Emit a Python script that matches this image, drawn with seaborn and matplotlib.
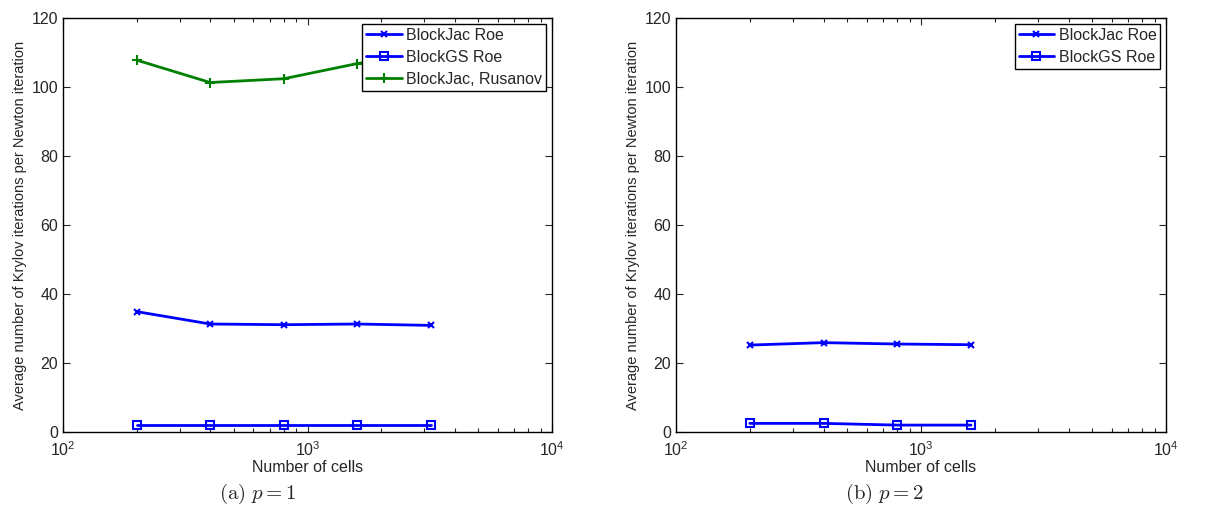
import matplotlib
matplotlib.use("Agg")
import matplotlib.pyplot as plt
import seaborn as sns
import pandas as pd
from matplotlib.ticker import LogLocator, NullFormatter

sns.set_style("ticks")
plt.rcParams['font.family'] = ['Liberation Sans', 'DejaVu Sans']
plt.rcParams['mathtext.fontset'] = 'cm'

cells_p1 = [200, 400, 800, 1600, 3200]
jac_roe_p1 = [34.9, 31.3, 31.1, 31.3, 30.9]
gs_roe_p1 = [2.1, 2.1, 2.1, 2.1, 2.1]
jac_rus_p1 = [107.8, 101.3, 102.4, 106.8, 110.0]

cells_p2 = [200, 400, 800, 1600]
jac_roe_p2 = [25.2, 25.9, 25.5, 25.3]
gs_roe_p2 = [2.5, 2.5, 2.0, 2.0]

series_p1 = [("BlockJac Roe", jac_roe_p1, "x", "#0000ff"),
             ("BlockGS Roe", gs_roe_p1, "s", "#0000ff"),
             ("BlockJac, Rusanov", jac_rus_p1, "+", "#008000")]
series_p2 = [("BlockJac Roe", jac_roe_p2, "x", "#0000ff"),
             ("BlockGS Roe", gs_roe_p2, "s", "#0000ff")]

fig = plt.figure(figsize=(12.21, 5.25), dpi=100)
ax1 = fig.add_axes([63/1221, 1-432/525, (552-63)/1221, (432-18)/525])
ax2 = fig.add_axes([676/1221, 1-432/525, (1166-676)/1221, (432-18)/525])

def draw(ax, cells, series):
    for name, vals, mk, col in series:
        df = pd.DataFrame({"cells": cells, "val": vals})
        sizes = {"x": 5, "s": 6, "+": 7}
        sns.lineplot(data=df, x="cells", y="val", ax=ax, color=col, marker=mk,
                     linewidth=2, markersize=sizes[mk],
                     markeredgewidth=1.5, markerfacecolor="none" if mk == "s" else col,
                     markeredgecolor=col, label=name)
    ax.set_xscale("log")
    ax.set_xlim(100, 10000)
    ax.set_ylim(0, 120)
    ax.set_yticks([0, 20, 40, 60, 80, 100, 120])
    ax.xaxis.set_minor_locator(LogLocator(base=10, subs=range(2, 10)))
    ax.xaxis.set_minor_formatter(NullFormatter())
    ax.tick_params(which="both", direction="in", top=True, right=True, labelsize=11.5)
    ax.tick_params(axis="x", which="major", pad=6)
    ax.tick_params(which="major", length=5, width=0.8)
    ax.tick_params(which="minor", length=3, width=0.8)
    for s in ax.spines.values():
        s.set_linewidth(1.0)
        s.set_color("black")
    ax.set_xlabel("Number of cells", fontsize=11.5, labelpad=1)
    ax.set_ylabel("Average number of Krylov iterations per Newton iteration", fontsize=10.5, labelpad=3)
    leg = ax.legend(loc="upper right", fontsize=11.5, fancybox=False, framealpha=1,
                    edgecolor="black", borderpad=0.25, labelspacing=0.45,
                    handlelength=2.2, handletextpad=0.3, borderaxespad=0.35)
    leg.get_frame().set_linewidth(1.0)

draw(ax1, cells_p1, series_p1)
draw(ax2, cells_p2, series_p2)

fig.text(258/1221, 1-494/525, r"$\mathrm{(a)}\ p = 1$", ha="center", va="center", fontsize=15)
fig.text(885/1221, 1-494/525, r"$\mathrm{(b)}\ p = 2$", ha="center", va="center", fontsize=15)

fig.savefig("out.png", dpi=100)
